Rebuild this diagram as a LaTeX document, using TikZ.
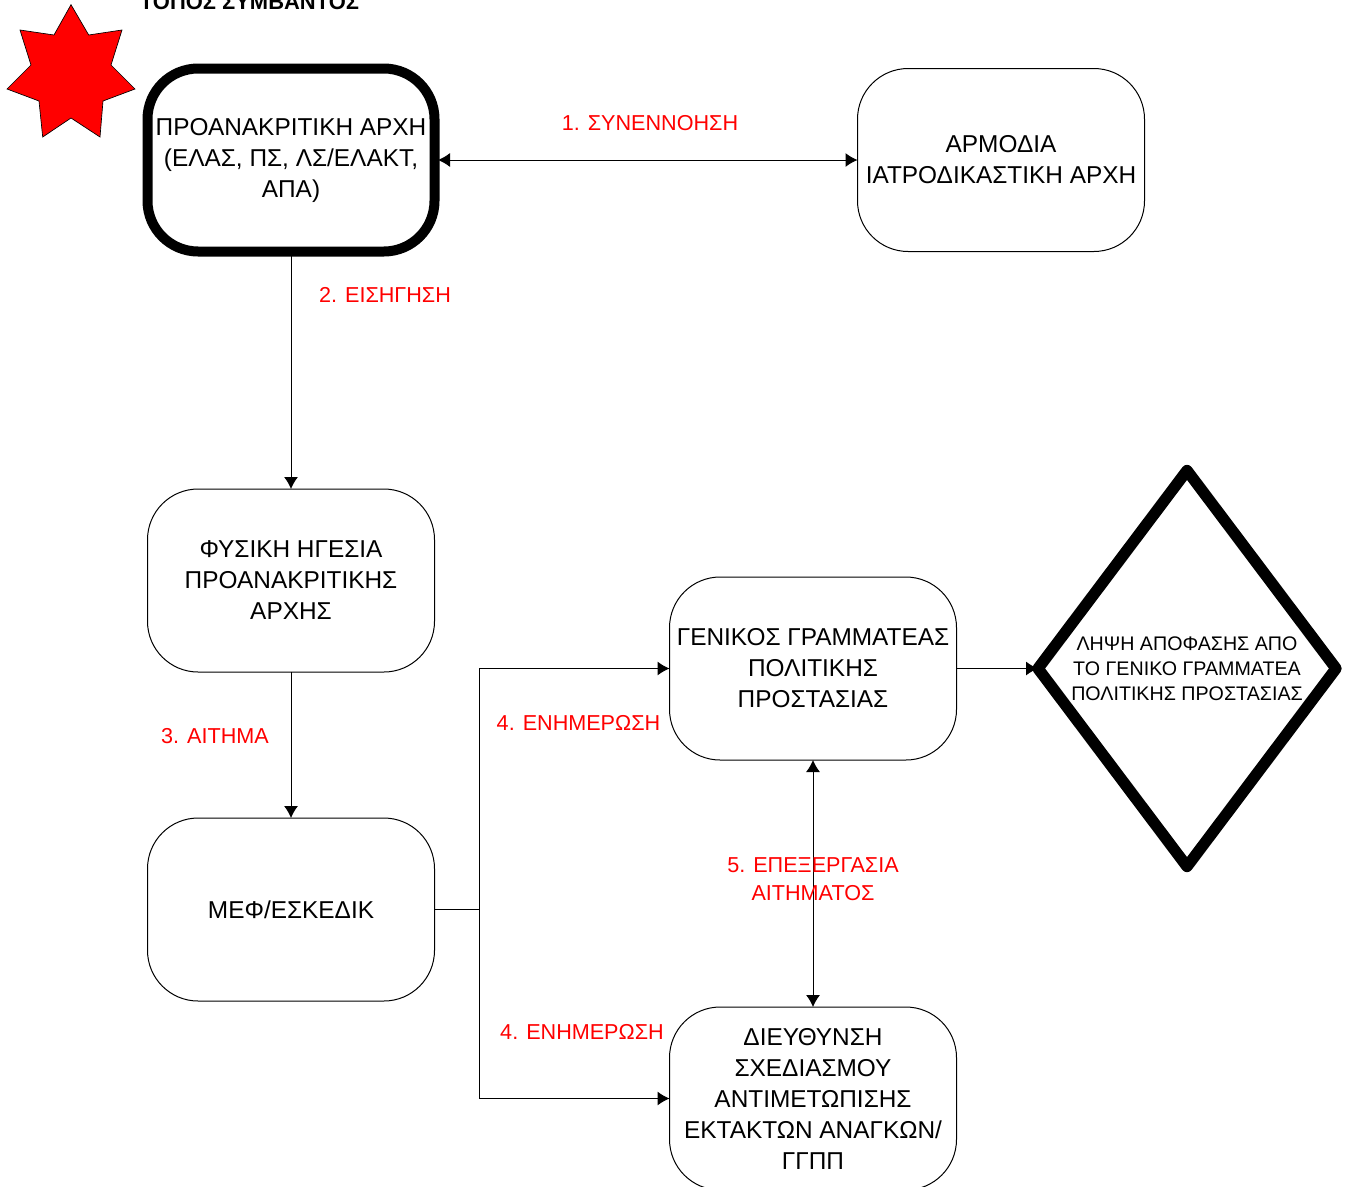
\documentclass[tikz,border=0pt]{standalone}
\usepackage{fontspec}
\setmainfont{Liberation Sans}
\usetikzlibrary{arrows.meta,shapes.geometric,positioning}
\colorlet{labelColor}{red}
\tikzset{>={Latex[length=9pt,width=10.5pt]}}
\tikzset{
  office/.style={draw,line width=0.75pt,rounded corners=38pt,minimum width=215.25pt,minimum height=137.25pt,inner sep=0pt,outer sep=0pt,align=center,font=\fontsize{18.3}{23.25}\selectfont},
  mainoffice/.style={office,line width=7.5pt},
  decision/.style={draw,diamond,line width=8.5pt,line join=round,minimum width=223.5pt,minimum height=297pt,aspect=0.75,inner sep=0pt,outer sep=0pt,align=center,font=\fontsize{14.75}{18.75}\selectfont},
  steplabel/.style={labelColor,align=center,inner sep=0pt,font=\fontsize{16.2}{21}\selectfont},
  link/.style={line width=0.75pt}
}
\begin{document}
\begin{tikzpicture}[x=0.75pt,y=-0.75pt]
\useasboundingbox (0,0) rectangle (1348,1186);
\clip (0,0) rectangle (1348,1186);
% star of the incident
\draw[fill=red,line width=0.5pt] (71,4.7) -- (88.7,35) -- (122,30) -- (111,65) -- (135,89) -- (103,101) -- (100,137)
  -- (71,118) -- (42.7,137) -- (39,101) -- (7,89) -- (31,65) -- (20,30) -- (54,35) -- cycle;
\node (place) at (249.5,2) [inner sep=0pt,font=\fontsize{16.45}{18.75}\selectfont\bfseries] {ΤΟΠΟΣ ΣΥΜΒΑΝΤΟΣ};
% offices
\node (agency) at (291,160) [mainoffice] {ΠΡΟΑΝΑΚΡΙΤΙΚΗ ΑΡΧΗ\\(ΕΛΑΣ, ΠΣ, ΛΣ/ΕΛΑΚΤ,\\ΑΠΑ)};
\node (forensic) at (1001,160) [office] {ΑΡΜΟΔΙΑ\\ΙΑΤΡΟΔΙΚΑΣΤΙΚΗ ΑΡΧΗ};
\node (leader) at (291,580.5) [office] {ΦΥΣΙΚΗ ΗΓΕΣΙΑ\\ΠΡΟΑΝΑΚΡΙΤΙΚΗΣ\\ΑΡΧΗΣ};
\node (mef) at (291,909.5) [office] {ΜΕΦ/ΕΣΚΕΔΙΚ};
\node (general) at (813,668.5) [office] {ΓΕΝΙΚΟΣ ΓΡΑΜΜΑΤΕΑΣ\\ΠΟΛΙΤΙΚΗΣ\\ΠΡΟΣΤΑΣΙΑΣ};
\node (planning) at (813,1098.5) [office] {ΔΙΕΥΘΥΝΣΗ\\ΣΧΕΔΙΑΣΜΟΥ\\ΑΝΤΙΜΕΤΩΠΙΣΗΣ\\ΕΚΤΑΚΤΩΝ ΑΝΑΓΚΩΝ/\\ΓΓΠΠ};
\node (choice) at (1187,668.5) [decision] {ΛΗΨΗ ΑΠΟΦΑΣΗΣ ΑΠΟ\\ΤΟ ΓΕΝΙΚΟ ΓΡΑΜΜΑΤΕΑ\\ΠΟΛΙΤΙΚΗΣ ΠΡΟΣΤΑΣΙΑΣ};
% connectors
\coordinate (fork) at (479,909.5);
\draw[link,<->] (agency.east) ++(3.5,0) -- (forensic.west);
\draw[link,->] (agency) -- (leader);
\draw[link,->] (leader) -- (mef);
\draw[link,->] (mef.east) -- (fork) |- (general.west);
\draw[link,->] (fork) |- (planning.west);
\draw[link,<->] (general) -- (planning);
\draw[link,->] (general.east) -- (choice.west);
% labels
\node (step1) at (650,123) [steplabel] {1. ΣΥΝΕΝΝΟΗΣΗ};
\node (step2) at (385,295) [steplabel] {2. ΕΙΣΗΓΗΣΗ};
\node (step3) at (215,736) [steplabel] {3. ΑΙΤΗΜΑ};
\node (step4a) at (578.5,723) [steplabel] {4. ΕΝΗΜΕΡΩΣΗ};
\node (step4b) at (582,1032) [steplabel] {4. ΕΝΗΜΕΡΩΣΗ};
\node (step5) at (813,879) [steplabel] {5. ΕΠΕΞΕΡΓΑΣΙΑ\\ΑΙΤΗΜΑΤΟΣ};
\end{tikzpicture}
\end{document}
